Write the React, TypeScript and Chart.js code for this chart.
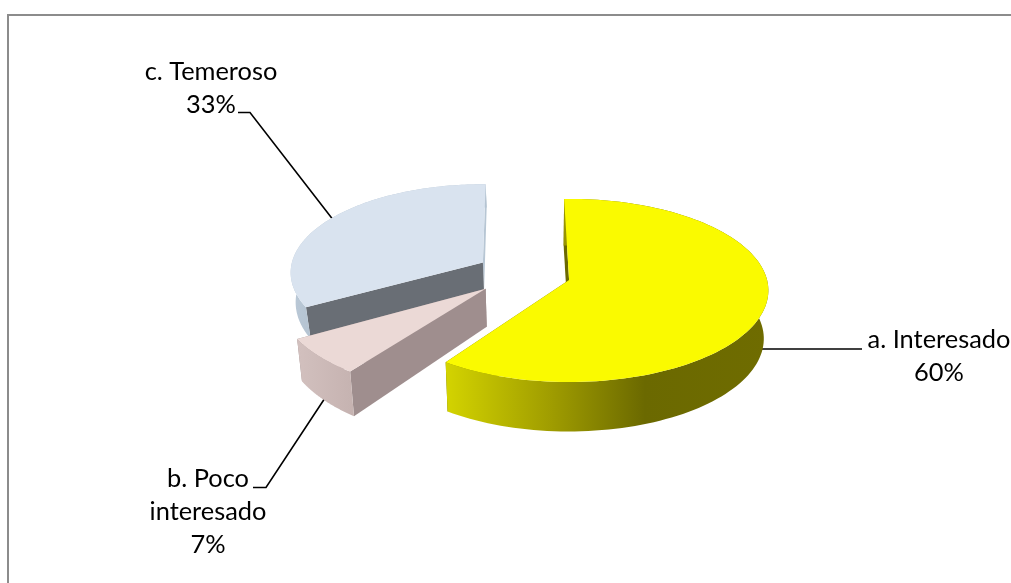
import React, { useEffect, useRef } from "react";
import { Chart, registerables } from "chart.js";

Chart.register(...registerables);

const categories = ["a. Interesado", "b. Poco interesado", "c. Temeroso"];
const percentages = [60, 7, 33];
const topColors = ["#FAFA00", "#EBD9D6", "#D9E3EF"];
const wallColors = ["#6B6900", "#9F8E8E", "#696E75"];
const endWallColors = ["#6B6900", "#9F8E8E", "#B7C6D4"];
const rimStops = [
  [[445, "#D4D400"], [550, "#A09D00"], [645, "#6B6900"], [770, "#6F6C00"]],
  [[298, "#D2C0BE"], [352, "#C6B3B1"]],
  [[289, "#BBC9D7"], [310, "#B5C4D2"]],
];
const labelLines = [["a. Interesado", "60%"], ["b. Poco", "interesado", "7%"], ["c. Temeroso", "33%"]];
const labelCenters = [[939, 348], [208, 487], [211, 80]];
const leaders = [
  [[758, 349], [862, 349]],
  [[253, 487.5], [266, 487.5], [325, 398]],
  [[238, 112.5], [250, 112.5], [334, 221]],
];
// per-slice 3D tuning: scale, rotation nudge (deg), apex nudge, extrusion depth
const sliceScale = [0.99, 1.03, 0.955];
const sliceTurn = [0, 0, 2.5];
const sliceStartNudge = [0, 2.3, -1];
const sliceShift = [[0, 0], [-4, 0], [0, -1]];
const sliceDepth = [[48, 0.03], [38, 0.22], [29, 0.2]];

const SQUASH = 0.4565;
const PERSPECTIVE = 0.1135;
const VANISH_X = 540;
const CONVERGE = 0.02;
const DEG = Math.PI / 180;

const pie3d = {
  id: "pie3d",
  beforeDraw(chart: any) {
    const { ctx } = chart;
    ctx.save();
    ctx.fillStyle = "#ffffff";
    ctx.fillRect(0, 0, chart.width, chart.height);
    ctx.strokeStyle = "#8C8C8C";
    ctx.lineWidth = 2;
    ctx.beginPath();
    ctx.moveTo(8, chart.height);
    ctx.lineTo(8, 15);
    ctx.lineTo(chart.width, 15);
    ctx.stroke();
    ctx.strokeStyle = "#000000";
    ctx.lineWidth = 1.6;
    for (const l of leaders) {
      ctx.beginPath();
      l.forEach(([x, y], i) => (i ? ctx.lineTo(x, y) : ctx.moveTo(x, y)));
      ctx.stroke();
    }
    ctx.restore();
  },
  beforeDatasetDraw(chart: any) {
    const { ctx } = chart;
    const arcs = chart.getDatasetMeta(0).data;
    ctx.save();
    [2, 1, 0].forEach((i) => {
      const arc = arcs[i];
      const p = arc.getProps(["x", "y", "startAngle", "endAngle", "outerRadius"], true);
      const off = (arc.options.offset || 0) / 4;
      const mid = (p.startAngle + p.endAngle) / 2;
      const ax = p.x + off * Math.cos(mid) + sliceShift[i][0];
      const ay = p.y + SQUASH * off * Math.sin(mid) + sliceShift[i][1];
      const R = p.outerRadius * sliceScale[i];
      const [D, b] = sliceDepth[i];
      const turn = sliceTurn[i] * DEG;
      const a0 = p.startAngle + turn + sliceStartNudge[i] * DEG;
      const a1 = p.endAngle + turn;

      const top = (t: number) => {
        const u = Math.cos(t);
        const v = Math.sin(t);
        const s = 1 / (1 - PERSPECTIVE * v);
        return [ax + R * u * s, ay + R * SQUASH * v * s];
      };
      const drop = (pt: number[], v: number) => [
        pt[0] + (VANISH_X - pt[0]) * CONVERGE,
        pt[1] + D * (1 + b * v),
      ];
      const bottom = (t: number) => drop(top(t), Math.sin(t));
      const apex = [ax, ay];
      const apexB = drop(apex, 0);

      const poly = (pts: number[][], fill: any) => {
        ctx.beginPath();
        pts.forEach(([x, y], n) => (n ? ctx.lineTo(x, y) : ctx.moveTo(x, y)));
        ctx.closePath();
        ctx.fillStyle = fill;
        ctx.fill();
      };

      const N = 120;
      const angles: number[] = [];
      for (let n = 0; n <= N; n++) angles.push(a0 + ((a1 - a0) * n) / N);

      // cut walls
      poly([top(a1), apex, apexB, bottom(a1)], i === 2 ? endWallColors[i] : wallColors[i]);
      poly([top(a0), apex, apexB, bottom(a0)], wallColors[i]);

      // outer rim
      const stops = rimStops[i];
      const first = stops[0][0] as number;
      const last = stops[stops.length - 1][0] as number;
      const grad = ctx.createLinearGradient(first, 0, last, 0);
      stops.forEach(([x, c]) => grad.addColorStop(((x as number) - first) / (last - first), c as string));
      poly([...angles.map(top), ...angles.slice().reverse().map(bottom)], grad);

      // top face
      poly([apex, ...angles.map(top)], arc.options.backgroundColor);
    });
    ctx.restore();
    return false;
  },
  afterDatasetsDraw(chart: any) {
    const { ctx } = chart;
    ctx.save();
    ctx.fillStyle = "#000000";
    ctx.font = "25.4px Lato";
    ctx.textAlign = "center";
    ctx.textBaseline = "alphabetic";
    labelLines.forEach((lines, i) => {
      lines.forEach((t, n) => ctx.fillText(t, labelCenters[i][0], labelCenters[i][1] + n * 33));
    });
    ctx.restore();
  },
};

export default function App() {
  const ref = useRef<HTMLCanvasElement>(null);
  useEffect(() => {
    document.body.style.margin = "0";
    const chart = new Chart(ref.current as HTMLCanvasElement, {
      type: "pie",
      data: {
        labels: categories,
        datasets: [
          {
            data: percentages,
            backgroundColor: topColors,
            borderWidth: 0,
            offset: 188,
          },
        ],
      },
      options: {
        responsive: false,
        animation: false,
        rotation: -1.6,
        radius: 200,
        layout: { padding: { left: 37, bottom: 35 } },
        plugins: { legend: { display: false }, tooltip: { enabled: false } },
      },
      plugins: [pie3d],
    } as any);
    return () => chart.destroy();
  }, []);
  return <canvas ref={ref} width={1011} height={583} style={{ display: "block" }} />;
}
